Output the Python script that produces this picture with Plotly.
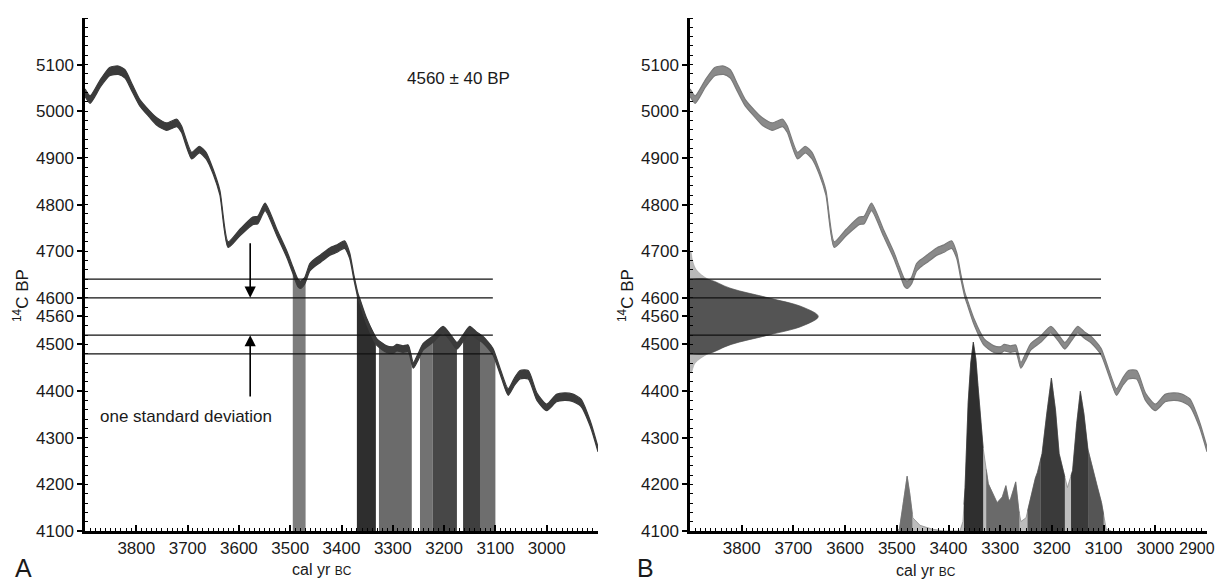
import numpy as np
import plotly.graph_objects as go

# page offset (body margin) and figure size
OX, OY = 8, 8
W, H = 1224, 574

# ---------------- data ----------------
date_bp = 4560
date_err = 40

# calibration curve (cal yr BC, 14C BP, 1-sigma band half-width)
cal_years = [3900, 3890, 3870, 3852, 3835, 3822, 3808, 3793, 3775, 3760,
             3741, 3721, 3712, 3692, 3677, 3664, 3650, 3637, 3621, 3598,
             3573, 3563, 3549, 3526, 3506, 3495, 3485, 3480, 3472, 3462,
             3456, 3440, 3423, 3410, 3394, 3384, 3376, 3368, 3364, 3351,
             3331, 3312, 3300, 3292, 3280, 3270, 3260, 3250, 3241, 3221,
             3202, 3188, 3175, 3162, 3150, 3137, 3124, 3105, 3090, 3075,
             3063, 3052, 3036, 3019, 3000, 2981, 2965, 2950, 2933, 2915, 2900]
curve_bp = [5040, 5025, 5060, 5085, 5088, 5080, 5050, 5018, 4995, 4978,
            4967, 4975, 4962, 4905, 4918, 4905, 4870, 4825, 4714, 4740,
            4765, 4767, 4795, 4740, 4692, 4660, 4632, 4628, 4636, 4665,
            4672, 4685, 4699, 4705, 4714, 4690, 4645, 4605, 4592, 4550,
            4505, 4490, 4488, 4493, 4490, 4492, 4455, 4475, 4495, 4512,
            4532, 4515, 4497, 4515, 4532, 4520, 4510, 4485, 4440, 4398,
            4420, 4435, 4435, 4388, 4365, 4385, 4388, 4386, 4375, 4330, 4275]
curve_err = [8, 8, 8, 9, 9, 9, 8, 7, 7, 8,
             8, 8, 7, 7, 7, 7, 5, 5, 6, 7,
             8, 8, 8, 7, 7, 7, 8, 8, 7, 8,
             8, 8, 8, 8, 8, 6, 5, 5, 5, 6,
             7, 7, 7, 7, 7, 7, 6, 7, 7, 7,
             7, 7, 7, 7, 7, 7, 7, 7, 6, 7,
             8, 9, 9, 8, 7, 8, 8, 8, 8, 6, 5]

# calibrated ranges (cal yr BC)
range_start = [3495, 3370, 3327, 3247, 3222, 3163, 3130]
range_end = [3470, 3333, 3263, 3222, 3175, 3130, 3100]

# calibrated probability distribution (relative)
prob_years = [3500, 3495, 3490, 3484, 3480, 3475, 3469, 3455, 3432, 3410,
              3400, 3378, 3372, 3368, 3362, 3357, 3352, 3347, 3343, 3333,
              3323, 3306, 3296, 3289, 3284, 3281, 3274, 3270, 3264, 3260,
              3250, 3238, 3232, 3228, 3219, 3210, 3201, 3193, 3186, 3170,
              3160, 3152, 3145, 3138, 3131, 3114, 3104, 3095, 3085]
prob_values = [0, .01, .10, .23, .29, .20, .07, .03, .01, .00,
               0, 0, .05, .23, .68, .89, 1.0, .91, .77, .44,
               .25, .15, .18, .24, .17, .16, .22, .26, .11, .05,
               .07, .22, .28, .31, .41, .62, .81, .64, .41, .23,
               .32, .57, .74, .62, .44, .25, .15, .01, 0]

# measured date distribution (relative) at 14C BP levels
gauss_bp = [4440, 4460, 4480, 4500, 4520, 4540, 4560, 4580, 4600, 4620, 4640, 4660, 4680, 4700]
gauss_p = [0.01, 0.04, 0.14, 0.32, 0.61, 0.88, 1.0, 0.88, 0.61, 0.32, 0.14, 0.05, 0.02, 0.005]

y_ticks = [4100, 4200, 4300, 4400, 4500, 4560, 4600, 4700, 4800, 4900, 5000, 5100]
x_ticks_a = [3800, 3700, 3600, 3500, 3400, 3300, 3200, 3100, 3000]
x_ticks_b = [3800, 3700, 3600, 3500, 3400, 3300, 3200, 3100, 3000, 2900]

# ---------------- styles ----------------
FONT = "Liberation Sans, Arial, sans-serif"
TXT = "#1a1a1a"
curve_col_a = "#3b3b3b"
curve_col_b = "#8a8a8a"
bar_cols_a = ["#7d7d7d", "#2e2e2e", "#6b6b6b", "#727272", "#474747", "#3f3f3f", "#6e6e6e"]
dist_cols_b = ["#707070", "#2f2f2f", "#6a6a6a", "#555555", "#3a3a3a", "#3a3a3a", "#555555"]
X_MIN, X_MAX = 3900, 2900
Y_MIN, Y_MAX = 4100, 5200
LINE_END = 3105
PROB_SCALE = 405      # BP units for relative probability 1
GAUSS_SCALE = 248     # cal years for relative probability 1
SMOOTH = 0.6


def fx(p):   # page pixel x -> paper fraction
    return (p - OX) / W


def fy(p):   # page pixel y -> paper fraction
    return 1 - (p - OY) / H


cal = np.array(cal_years, float)
bp = np.array(curve_bp, float)
err = np.array(curve_err, float)
upper = bp + err
lower = bp - err
pyrs = np.array(prob_years, float)
pv = np.array(prob_values, float)

fig = go.Figure()


def segment(xarr, yarr, s, e):
    xi = xarr[::-1]
    yi = yarr[::-1]
    xs = [s] + [v for v in xarr if e < v < s] + [e]
    ys = list(np.interp(xs, xi, yi))
    return xs, ys


# ---- Panel A: calibrated ranges as bars up to curve
for s, e, c in zip(range_start, range_end, bar_cols_a):
    xs, ys = segment(cal, upper, s, e)
    fig.add_trace(go.Scatter(x=xs, y=ys, mode="lines",
                             line=dict(width=0, color=c, shape="spline", smoothing=SMOOTH),
                             fill="tozeroy", fillcolor=c, xaxis="x", yaxis="y",
                             hoverinfo="skip", showlegend=False))

# curve band A
fig.add_trace(go.Scatter(x=cal, y=lower, mode="lines",
                         line=dict(width=1.2, color=curve_col_a, shape="spline", smoothing=SMOOTH),
                         xaxis="x", yaxis="y", showlegend=False, hoverinfo="skip"))
fig.add_trace(go.Scatter(x=cal, y=upper, mode="lines",
                         line=dict(width=1.2, color=curve_col_a, shape="spline", smoothing=SMOOTH),
                         fill="tonexty", fillcolor=curve_col_a, xaxis="x", yaxis="y",
                         showlegend=False, hoverinfo="skip"))

# ---- Panel B: probability distribution
fig.add_trace(go.Scatter(x=pyrs, y=Y_MIN + pv * PROB_SCALE, mode="lines",
                         line=dict(width=0.8, color="#8f8f8f"), fill="tozeroy",
                         fillcolor="#bdbdbd", xaxis="x2", yaxis="y2",
                         showlegend=False, hoverinfo="skip"))
for s, e, c in zip(range_start, range_end, dist_cols_b):
    xs, ys = segment(pyrs, pv, s, e)
    fig.add_trace(go.Scatter(x=xs, y=[Y_MIN + v * PROB_SCALE for v in ys], mode="lines",
                             line=dict(width=0.6, color=c), fill="tozeroy", fillcolor=c,
                             xaxis="x2", yaxis="y2", showlegend=False, hoverinfo="skip"))

# measured date gaussian on the y axis
gb = np.array(gauss_bp, float)
gp = np.array(gauss_p, float)
gx = X_MIN - gp * GAUSS_SCALE
fig.add_trace(go.Scatter(x=[X_MIN] + list(gx) + [X_MIN], y=[gb[0]] + list(gb) + [gb[-1]],
                         mode="lines", line=dict(width=0.5, color="#9a9a9a", shape="spline"),
                         fill="toself", fillcolor="#b8b8b8", xaxis="x2", yaxis="y2",
                         showlegend=False, hoverinfo="skip"))
inner = (gb >= date_bp - 2 * date_err) & (gb <= date_bp + 2 * date_err)
fig.add_trace(go.Scatter(x=[X_MIN] + list(gx[inner]) + [X_MIN],
                         y=[gb[inner][0]] + list(gb[inner]) + [gb[inner][-1]],
                         mode="lines", line=dict(width=0.5, color="#4a4a4a", shape="spline"),
                         fill="toself", fillcolor="#545454", xaxis="x2", yaxis="y2",
                         showlegend=False, hoverinfo="skip"))

# curve band B
fig.add_trace(go.Scatter(x=cal, y=lower, mode="lines",
                         line=dict(width=1.2, color="#7a7a7a", shape="spline", smoothing=SMOOTH),
                         xaxis="x2", yaxis="y2", showlegend=False, hoverinfo="skip"))
fig.add_trace(go.Scatter(x=cal, y=upper, mode="lines",
                         line=dict(width=1.2, color="#7a7a7a", shape="spline", smoothing=SMOOTH),
                         fill="tonexty", fillcolor=curve_col_b, xaxis="x2", yaxis="y2",
                         showlegend=False, hoverinfo="skip"))

# ---- horizontal sigma lines
levels = [date_bp - 2 * date_err, date_bp - date_err, date_bp + date_err, date_bp + 2 * date_err]
shapes = []
for xr, yr in (("x", "y"), ("x2", "y2")):
    for lv in levels:
        shapes.append(dict(type="line", xref=xr, yref=yr, x0=X_MIN, x1=LINE_END, y0=lv, y1=lv,
                           line=dict(color="#111", width=1.3), layer="above"))


def xaxis(dom, ticks, hide_last=False):
    texts = [str(t) for t in ticks]
    if hide_last:
        texts[-1] = ""
    return dict(domain=dom, range=[X_MIN, X_MAX], showline=True, linecolor="black", linewidth=2.5,
                ticks="inside", ticklen=6, tickwidth=1.5, tickcolor="black",
                tickmode="array", tickvals=ticks, ticktext=texts,
                minor=dict(tickmode="linear", tick0=2900, dtick=10, ticks="inside",
                           ticklen=3, tickwidth=1, tickcolor="black"),
                showgrid=False, zeroline=False, mirror=False, automargin=False,
                ticklabeloverflow="allow",
                tickfont=dict(family=FONT, size=17, color=TXT))


def yaxis(dom, anchor):
    return dict(domain=dom, range=[Y_MIN, Y_MAX], anchor=anchor, showline=True, linecolor="black",
                linewidth=2.5, ticks="outside", ticklen=5, tickwidth=1.5, tickcolor="black",
                tickmode="array", tickvals=y_ticks, ticktext=[str(t) for t in y_ticks],
                minor=dict(tickmode="linear", tick0=4100, dtick=20, ticks="inside",
                           ticklen=3, tickwidth=1, tickcolor="black"),
                showgrid=False, zeroline=False, automargin=False,
                ticklabeloverflow="allow",
                tickfont=dict(family=FONT, size=17, color=TXT))


ydom = [fy(531), fy(18)]


def ann(text, x, y, size=14, angle=0):
    return dict(text=text, x=fx(x), y=fy(y), xref="paper", yref="paper", showarrow=False,
                textangle=angle, font=dict(family=FONT, size=size, color=TXT),
                xanchor="center", yanchor="middle")


annotations = [
    ann("4560 ± 40 BP", 458, 78, 17),
    ann("one standard deviation", 186, 416, 17),
    ann("A", 23, 568, 25),
    ann("B", 645, 568, 25),
    ann("cal yr <span style='font-size:12px'>BC</span>", 322, 569, 16),
    ann("cal yr <span style='font-size:12px'>BC</span>", 926, 570, 16),
    ann("<sup>14</sup>C BP", 21, 296, 17, -90),
    ann("<sup>14</sup>C BP", 626, 296, 17, -90),
    ann(str(x_ticks_b[-1]), 1197, 548, 16),
    dict(x=3578, y=date_bp + date_err, ax=3578, ay=4720, xref="x", yref="y", axref="x", ayref="y",
         showarrow=True, arrowhead=2, arrowsize=1.4, arrowwidth=1.6, arrowcolor="black", text=""),
    dict(x=3578, y=date_bp - date_err, ax=3578, ay=4385, xref="x", yref="y", axref="x", ayref="y",
         showarrow=True, arrowhead=2, arrowsize=1.4, arrowwidth=1.6, arrowcolor="black", text=""),
]

fig.update_layout(
    width=W, height=H, margin=dict(l=0, r=0, t=0, b=0, autoexpand=False),
    paper_bgcolor="white", plot_bgcolor="white", showlegend=False,
    xaxis=dict(xaxis([fx(85), fx(598)], x_ticks_a), anchor="y"),
    yaxis=yaxis(ydom, "x"),
    xaxis2=dict(xaxis([fx(690), fx(1207)], x_ticks_b, hide_last=True), anchor="y2"),
    yaxis2=yaxis(ydom, "x2"),
    shapes=shapes, annotations=annotations,
)

fig.write_html("out.html")
